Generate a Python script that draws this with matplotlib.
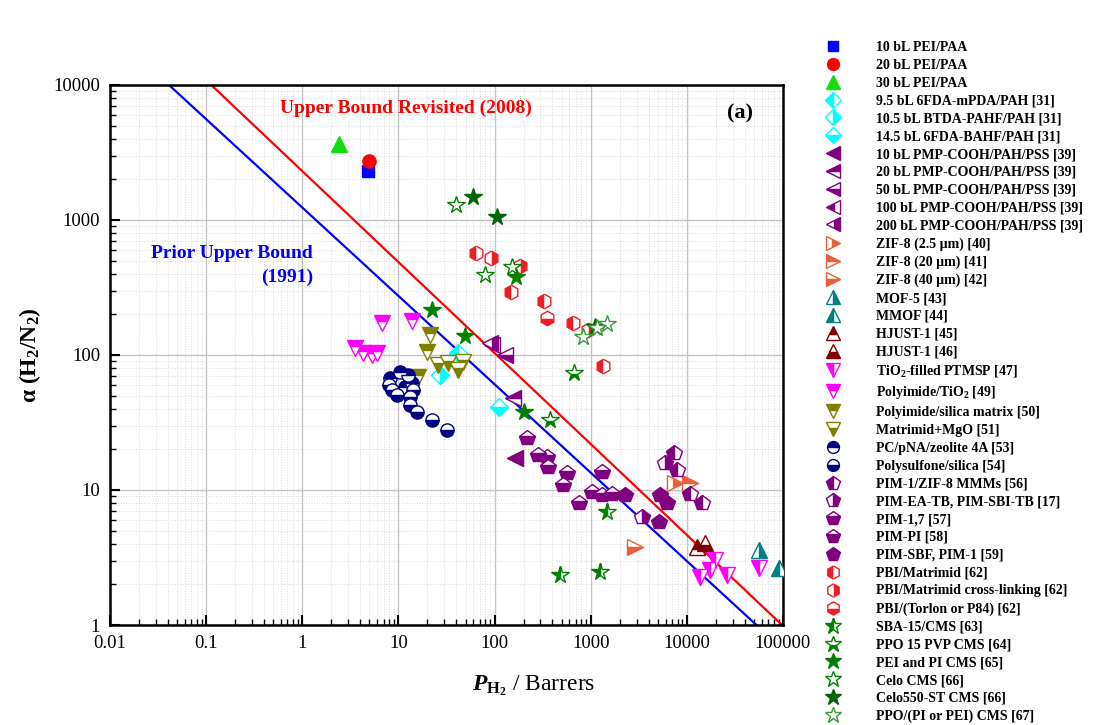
import matplotlib.pyplot as plt
import numpy as np

plt.rcParams['font.family'] = ['Liberation Serif', 'DejaVu Serif']
plt.rcParams['mathtext.fontset'] = 'custom'
plt.rcParams['mathtext.rm'] = 'Liberation Serif'
plt.rcParams['mathtext.it'] = 'Liberation Serif:italic:bold'
plt.rcParams['mathtext.bf'] = 'Liberation Serif:bold'

# Robeson upper bounds H2/N2: P = k * alpha^n
k1991, n1991 = 52918, -1.5275
k2008, n2008 = 97650, -1.4841

# data points (P_H2 in Barrer, alpha H2/N2)
pei10_x, pei10_y = [4.85], [2306]
pei20_x, pei20_y = [4.95], [2737]
pei30_x, pei30_y = [2.41], [3656]
fda95_x, fda95_y = [42.1], [103]
btda105_x, btda105_y = [27.2], [71.1]
fda145_x, fda145_y = [110], [41.4]
pmp10_x, pmp10_y = [164], [17.2]
pmp20_x, pmp20_y = [157], [47.7]
pmp50_x, pmp50_y = [129], [100]
pmp100_x, pmp100_y = [94], [119]
pmp200_x, pmp200_y = [90], [122]
zif25_x, zif25_y = [7590], [11.2]
zif20_x, zif20_y = [10840], [11.2]
zif40_x, zif40_y = [2904], [3.8]
mof5_x, mof5_y = [55800], [3.6]
mmof_x, mmof_y = [90200], [2.63]
hjust45_x, hjust45_y = [12700], [3.8]
hjust46_x, hjust46_y = [15520], [4.03]
ptmsp_x = [13770, 17500, 19700, 26100, 55800]
ptmsp_y = [2.28, 2.55, 3.03, 2.34, 2.63]
pitio2_x = [3.54, 4.32, 5.30, 5.97, 6.76, 13.9]
pitio2_y = [113, 104, 100, 104, 173, 179]
pisil_x, pisil_y = [21.4, 19.7, 16.1], [141, 106, 69]
mgo_x, mgo_y = [26.1, 33.1, 42.1, 47.4], [84.4, 86.8, 77.4, 89.2]
pcpna_x, pcpna_y = [10.4, 12.7, 8.2, 13.7, 11.7], [75, 71, 67, 62, 58]
psf_x = [7.9, 8.5, 9.6, 14.3, 13.2, 13.2, 15.7, 22.2, 31.8]
psf_y = [60, 55, 50.6, 55, 49, 42.7, 38, 33, 27.8]
pimzif_x, pimzif_y = [7278, 7870, 10840, 14320], [18.7, 14.1, 9.4, 7.96]
pimtb_x, pimtb_y = [5958, 3411], [15.8, 6.3]
pim17_x, pim17_y = [216, 350, 363, 565, 1306], [24.2, 17.7, 14.9, 13.3, 13.7]
pimpi_x = [286, 521, 747, 1028, 1306, 1660]
pimpi_y = [18.2, 10.9, 7.96, 9.7, 9.2, 9.4]
pimsbf_x, pimsbf_y = [2288, 5082, 5287, 6210], [9.2, 5.8, 9.2, 7.96]
pbim_x, pbim_y = [63.8, 149, 323, 651, 1335], [566, 294, 251, 172, 83]
pbixl_x, pbixl_y = [92.2, 184, 948], [520, 456, 153]
pbitor_x, pbitor_y = [355], [189]
sba_x, sba_y = [482, 1256, 1472], [2.34, 2.48, 6.9]
ppopvp_x, ppopvp_y = [664, 379], [73, 33]
peipi_x, peipi_y = [22.2, 49.4, 200, 168], [215, 139, 38, 380]
celo_x, celo_y = [39.8, 79.8, 151], [1292, 392, 451]
celo550_x, celo550_y = [59.8, 106, 1100], [1479, 1057, 162]
ppopi_x, ppopi_y = [832, 1472, 1159], [135, 170, 158]

# label, x, y, marker, color, fillstyle, size
series = [
    ('10 bL PEI/PAA', pei10_x, pei10_y, 's', '#0000FF', 'full', 8.5),
    ('20 bL PEI/PAA', pei20_x, pei20_y, 'o', '#FF0000', 'full', 9.5),
    ('30 bL PEI/PAA', pei30_x, pei30_y, '^', '#11DD11', 'full', 11),
    ('9.5 bL 6FDA-mPDA/PAH [31]', fda95_x, fda95_y, 'D', '#00FFFF', 'left', 9),
    ('10.5 bL BTDA-PAHF/PAH [31]', btda105_x, btda105_y, 'D', '#00FFFF', 'right', 9),
    ('14.5 bL 6FDA-BAHF/PAH [31]', fda145_x, fda145_y, 'D', '#00FFFF', 'bottom', 9),
    ('10 bL PMP-COOH/PAH/PSS [39]', pmp10_x, pmp10_y, '<', '#800080', 'full', 11),
    ('20 bL PMP-COOH/PAH/PSS [39]', pmp20_x, pmp20_y, '<', '#800080', 'top', 11),
    ('50 bL PMP-COOH/PAH/PSS [39]', pmp50_x, pmp50_y, '<', '#800080', 'bottom', 11),
    ('100 bL PMP-COOH/PAH/PSS [39]', pmp100_x, pmp100_y, '<', '#800080', 'left', 11),
    ('200 bL PMP-COOH/PAH/PSS [39]', pmp200_x, pmp200_y, '<', '#800080', 'right', 11),
    ('ZIF-8 (2.5 µm) [40]', zif25_x, zif25_y, '>', '#E9603D', 'right', 11),
    ('ZIF-8 (20 µm) [41]', zif20_x, zif20_y, '>', '#E9603D', 'top', 11),
    ('ZIF-8 (40 µm) [42]', zif40_x, zif40_y, '>', '#E9603D', 'bottom', 11),
    ('MOF-5 [43]', mof5_x, mof5_y, '^', '#008080', 'right', 11),
    ('MMOF [44]', mmof_x, mmof_y, '^', '#008080', 'left', 11),
    ('HJUST-1 [45]', hjust45_x, hjust45_y, '^', '#800000', 'top', 11),
    ('HJUST-1 [46]', hjust46_x, hjust46_y, '^', '#800000', 'bottom', 11),
    ('TiO$_\\mathbf{2}$-filled PTMSP [47]', ptmsp_x, ptmsp_y, 'v', '#FF00FF', 'left', 11),
    ('Polyimide/TiO$_\\mathbf{2}$ [49]', pitio2_x, pitio2_y, 'v', '#FF00FF', 'top', 11),
    ('Polyimide/silica matrix [50]', pisil_x, pisil_y, 'v', '#808000', 'top', 11),
    ('Matrimid+MgO [51]', mgo_x, mgo_y, 'v', '#808000', 'bottom', 11),
    ('PC/pNA/zeolite 4A [53]', pcpna_x, pcpna_y, 'o', '#000080', 'top', 9.5),
    ('Polysulfone/silica [54]', psf_x, psf_y, 'o', '#000080', 'bottom', 9.5),
    ('PIM-1/ZIF-8 MMMs [56]', pimzif_x, pimzif_y, 'p', '#800080', 'left', 11.5),
    ('PIM-EA-TB, PIM-SBI-TB [17]', pimtb_x, pimtb_y, 'p', '#800080', 'right', 11.5),
    ('PIM-1,7 [57]', pim17_x, pim17_y, 'p', '#800080', 'bottom', 11.5),
    ('PIM-PI [58]', pimpi_x, pimpi_y, 'p', '#800080', 'bottom', 11.5),
    ('PIM-SBF, PIM-1 [59]', pimsbf_x, pimsbf_y, 'p', '#800080', 'full', 11.5),
    ('PBI/Matrimid [62]', pbim_x, pbim_y, 'h', '#EE1C25', 'left', 10.5),
    ('PBI/Matrimid cross-linking [62]', pbixl_x, pbixl_y, 'h', '#EE1C25', 'right', 10.5),
    ('PBI/(Torlon or P84) [62]', pbitor_x, pbitor_y, 'h', '#EE1C25', 'bottom', 10.5),
    ('SBA-15/CMS [63]', sba_x, sba_y, '*', '#008000', 'left', 13),
    ('PPO 15 PVP CMS [64]', ppopvp_x, ppopvp_y, '*', '#008000', 'bottom', 13),
    ('PEI and PI CMS [65]', peipi_x, peipi_y, '*', '#008000', 'full', 13),
    ('Celo CMS [66]', celo_x, celo_y, '*', '#008000', 'none', 13),
    ('Celo550-ST CMS [66]', celo550_x, celo550_y, '*', '#006400', 'full', 13),
    ('PPO/(PI or PEI) CMS [67]', ppopi_x, ppopi_y, '*', '#3A9A3A', 'none', 13),
]

fig = plt.figure(figsize=(10.93, 7.25), dpi=100)
ax = fig.add_axes([110 / 1093, 1 - 625 / 725, 673 / 1093, 540 / 725])

ax.set_xscale('log')
ax.set_yscale('log')
ax.set_xlim(0.01, 100000)
ax.set_ylim(1, 10000)

ax.grid(True, which='major', color='#c4c4c4', lw=1.0, zorder=0)
ax.grid(True, which='minor', color='#dadada', lw=0.7, ls=':', zorder=0)
ax.set_axisbelow(True)

# upper bound lines
pp = np.logspace(-2, 5, 200)
ax.plot(pp, (pp / k1991) ** (1 / n1991), color='#0000FF', lw=1.6, zorder=2)
ax.plot(pp, (pp / k2008) ** (1 / n2008), color='#FF0000', lw=1.6, zorder=2)

for lab, xs, ys, m, c, fs, s in series:
    face = 'white' if fs == 'none' else c
    ax.plot(xs, ys, ls='none', marker=m, ms=s, color=c, mec=c, mfc=face,
            fillstyle='full' if fs == 'none' else fs, markerfacecoloralt='white',
            mew=1.0, label=lab, zorder=3)

ax.text(0.253, 0.957, 'Upper Bound Revisited (2008)', transform=ax.transAxes,
        color='#FF0000', fontsize=14, fontweight='bold', va='center', ha='left')
ax.text(0.302, 0.666, 'Prior Upper Bound\n(1991)', transform=ax.transAxes,
        color='#0000FF', fontsize=14, fontweight='bold', va='center', ha='right',
        multialignment='right', linespacing=1.5)
ax.text(0.936, 0.948, '(a)', transform=ax.transAxes, fontsize=16,
        fontweight='bold', va='center', ha='center')

ax.xaxis.set_major_formatter(plt.FuncFormatter(lambda v, p: '%g' % v))
ax.yaxis.set_major_formatter(plt.FuncFormatter(lambda v, p: '%g' % v))
ax.xaxis.set_major_locator(plt.LogLocator(base=10, numticks=10))
ax.tick_params(which='major', direction='in', length=7, width=1.5, labelsize=13.5, pad=7)
ax.tick_params(which='minor', direction='in', length=4, width=1.0)
ax.tick_params(axis='y', which='both', right=False)
ax.tick_params(axis='x', which='both', top=False)
for sp in ax.spines.values():
    sp.set_linewidth(1.8)

ax.set_ylabel(r'α (H$_\mathbf{2}$/N$_\mathbf{2}$)', fontsize=17, fontweight='bold')
ax.yaxis.set_label_coords(-0.1, 0.5)
ax.set_xlabel(r'$P_{\mathbf{H_2}}$ / Barrers', fontsize=17)
ax.xaxis.set_label_coords(0.63, -0.09)

fig.legend(loc='upper left', bbox_to_anchor=(0.749, 0.953), frameon=False,
           prop={'weight': 'bold', 'size': 10}, handlelength=1.0,
           handletextpad=2.6, labelspacing=0.348, borderpad=0, markerscale=0.9)

fig.savefig('out.png', dpi=100)
